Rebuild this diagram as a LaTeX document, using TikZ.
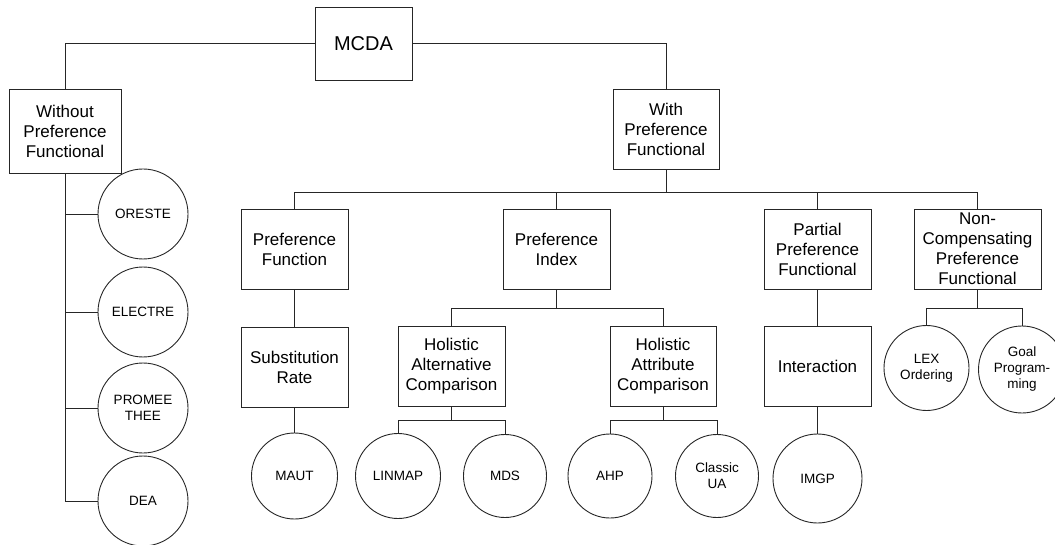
\documentclass[tikz,border=0pt]{standalone}
\usepackage{fontspec}
\setmainfont{Liberation Sans}
\begin{document}
\begin{tikzpicture}[x=1pt,y=-1pt,
  line/.style={draw=black!85,line width=0.9pt},
  box/.style={line,rectangle,inner sep=0pt,align=center,
    font=\fontsize{17}{20}\selectfont},
  leaf/.style={line,circle,inner sep=0pt,align=center,minimum size=#1,
    font=\fontsize{13.5}{16}\selectfont},
  leaf/.default=86pt]
\useasboundingbox (0,0) rectangle (1055,545);

% root and first split
\node[box,minimum width=97pt,minimum height=73pt,font=\fontsize{20}{24}\selectfont]
  (mcda) at (363.5,43.5) {MCDA};
\node[box,minimum width=112pt,minimum height=84pt] (wopf) at (65,131)
  {Without\\Preference\\Functional};
\node[box,minimum width=106pt,minimum height=80pt] (wpf) at (666,129)
  {With\\Preference\\Functional};

% methods without a preference functional
\node[leaf=90pt] (oreste)  at (143,214) {ORESTE};
\node[leaf=90pt] (electre) at (143,312) {ELECTRE};
\node[leaf=90pt] (promee)  at (143,408) {PROMEE\\THEE};
\node[leaf=90pt] (dea)     at (143,501) {DEA};

% families with a preference functional
\node[box,minimum width=107pt,minimum height=80pt] (pfun) at (294.5,249)
  {Preference\\Function};
\node[box,minimum width=107pt,minimum height=80pt] (pidx) at (556.5,249)
  {Preference\\Index};
\node[box,minimum width=107pt,minimum height=80pt] (ppf) at (817.5,249)
  {Partial\\Preference\\Functional};
\node[box,minimum width=127pt,minimum height=80pt] (ncpf) at (977.5,249)
  {Non-\\Compensating\\Preference\\Functional};

% second level
\node[box,minimum width=107pt,minimum height=80pt] (subs) at (294.5,367)
  {Substitution\\Rate};
\node[box,minimum width=107pt,minimum height=80pt] (halt) at (451.5,366)
  {Holistic\\Alternative\\Comparison};
\node[box,minimum width=106pt,minimum height=80pt] (hatt) at (663,366)
  {Holistic\\Attribute\\Comparison};
\node[box,minimum width=107pt,minimum height=80pt] (inter) at (817.5,366)
  {Interaction};

% leaf methods
\node[leaf=86pt] (maut)    at (294.5,476) {MAUT};
\node[leaf=85pt] (linmap)  at (398,476)   {LINMAP};
\node[leaf=83pt] (mds)     at (505,476)   {MDS};
\node[leaf=84pt] (ahp)     at (610,476)   {AHP};
\node[leaf=83pt] (classic) at (717,476)   {Classic\\UA};
\node[leaf=89pt] (imgp)    at (817.5,478.5) {IMGP};
\node[leaf=85pt] (lex)     at (926.5,368) {LEX\\Ordering};
\node[leaf=87pt] (goal)    at (1022,369.5) {Goal\\Program-\\ming};

% bus points
\coordinate (bwpf) at (666,192);
\coordinate (bpidx) at (556.5,308);
\coordinate (bhalt) at (451.5,420);
\coordinate (bhatt) at (663,420);
\coordinate (bncpf) at (977.5,308);

% connectors
\draw[line] (mcda.west) -| (wopf.north);
\draw[line] (mcda.east) -| (wpf.north);

\draw[line] (wopf.south) |- (oreste.west);
\draw[line] (wopf.south) |- (electre.west);
\draw[line] (wopf.south) |- (promee.west);
\draw[line] (wopf.south) |- (dea.west);

\draw[line] (wpf.south) -- (bwpf);
\draw[line] (bwpf) -| (pfun.north);
\draw[line] (bwpf) -| (pidx.north);
\draw[line] (bwpf) -| (ppf.north);
\draw[line] (bwpf) -| (ncpf.north);

\draw[line] (pfun.south) -- (subs.north);
\draw[line] (subs.south) -- (maut.north);

\draw[line] (pidx.south) -- (bpidx);
\draw[line] (bpidx) -| (halt.north);
\draw[line] (bpidx) -| (hatt.north);

\draw[line] (halt.south) -- (bhalt);
\draw[line] (bhalt) -| (linmap.north);
\draw[line] (bhalt) -| (mds.north);

\draw[line] (hatt.south) -- (bhatt);
\draw[line] (bhatt) -| (ahp.north);
\draw[line] (bhatt) -| (classic.north);

\draw[line] (ppf.south) -- (inter.north);
\draw[line] (inter.south) -- (imgp.north);

\draw[line] (ncpf.south) -- (bncpf);
\draw[line] (bncpf) -| (lex.north);
\draw[line] (bncpf) -| (goal.north);
\end{tikzpicture}
\end{document}
